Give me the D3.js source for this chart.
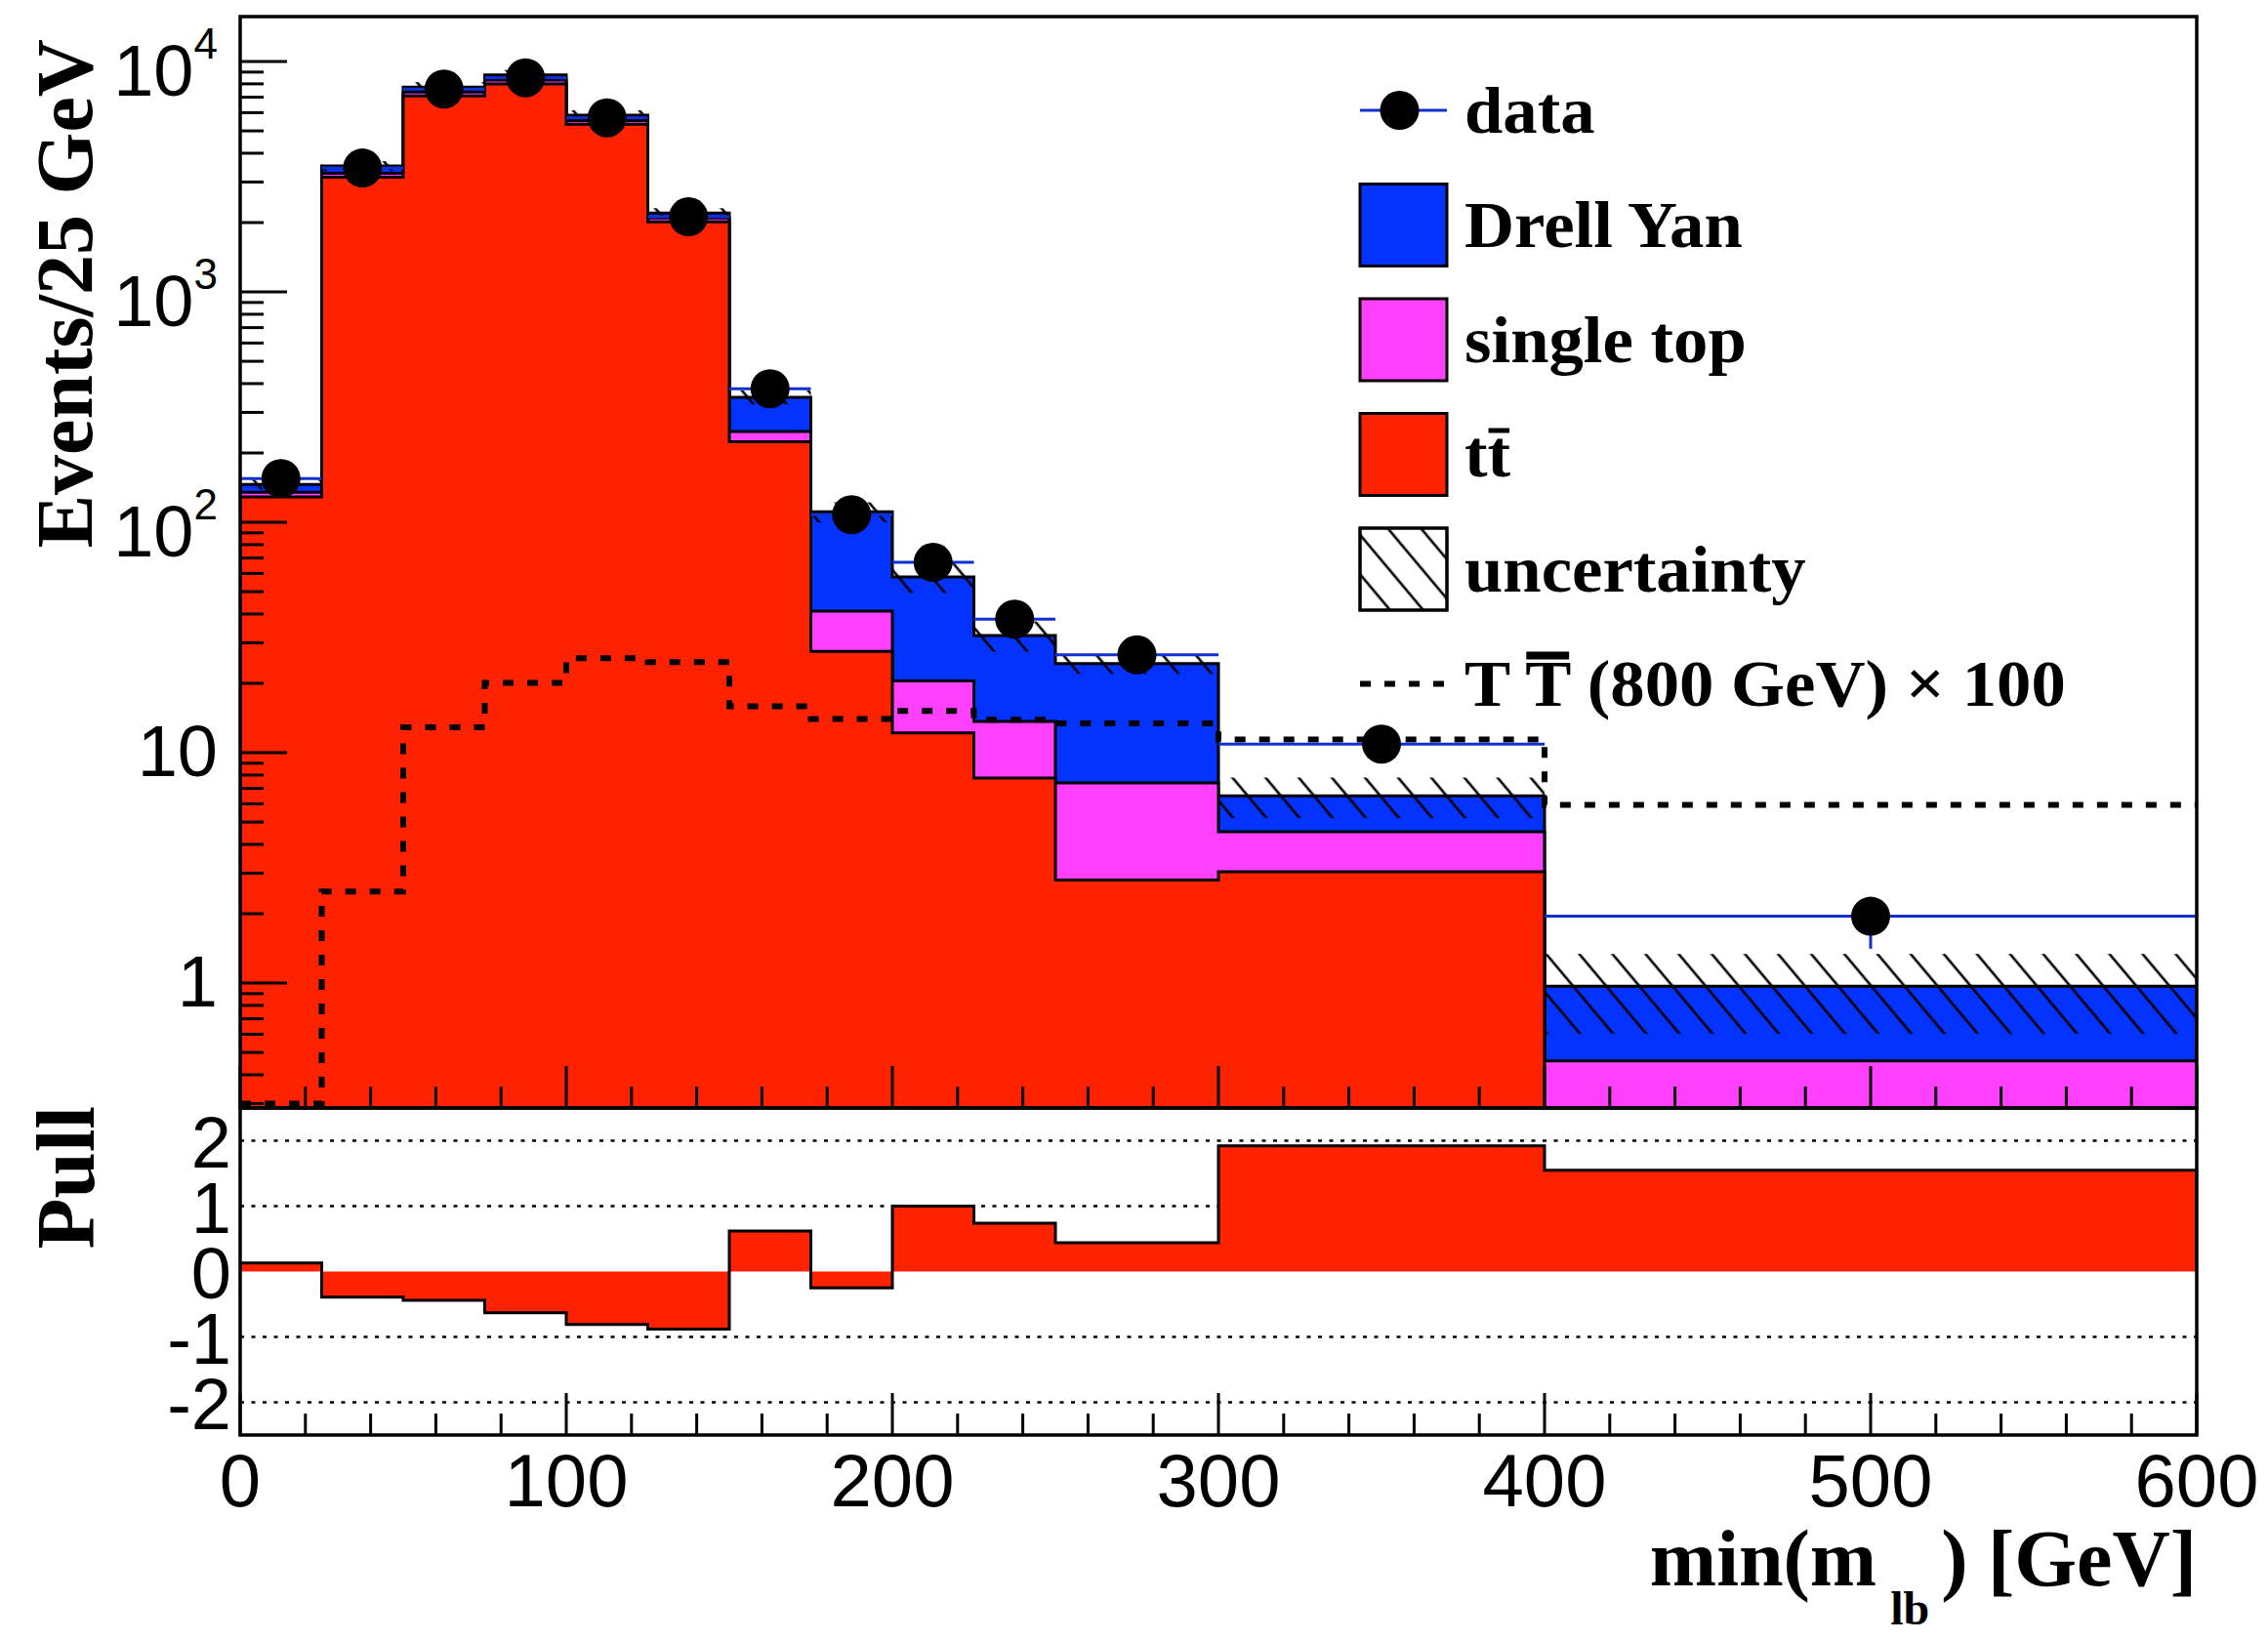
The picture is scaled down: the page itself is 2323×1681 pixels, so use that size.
<!DOCTYPE html>
<html><head><meta charset="utf-8">
<script src="https://cdn.jsdelivr.net/npm/d3@7"></script>
<style>html,body{margin:0;padding:0;background:#fff;}svg{display:block;}</style>
</head><body>
<svg id="c" width="2323" height="1681"></svg>
<script>
// ---------------- data ----------------
const binEdges   = [0, 25, 50, 75, 100, 125, 150, 175, 200, 225, 250, 300, 400, 600];
const ttbar      = [129, 3150, 7100, 8000, 5340, 2015, 224, 27.5, 12.2, 7.77, 2.8, 3.04, 0.2];
const singleTop  = [6, 120, 270, 320, 210, 80, 24, 13.7, 8.3, 5.9, 4.6, 1.5, 0.26];
const drellYan   = [11, 250, 380, 430, 300, 105, 101, 69.8, 37.5, 18.6, 17.0, 1.96, 0.51];
const uncRel     = [0.05, 0.05, 0.05, 0.05, 0.05, 0.05, 0.07, 0.1, 0.15, 0.15, 0.1, 0.2, 0.38];
const dataVals   = [155, 3450, 7600, 8500, 5700, 2120, 380, 108, 67, 38, 26.6, 10.9, 1.95];
const dataErrLow = [10, 50, 75, 80, 65, 40, 17, 8, 5, 3.5, 2.5, 0.9, 0.54];
const signalTT   = [0.3, 2.5, 12.9, 20.1, 25.7, 24.7, 15.9, 14.0, 15.2, 13.9, 13.4, 11.4, 5.94];
const pullVals   = [0.13, -0.39, -0.44, -0.63, -0.81, -0.88, 0.62, -0.25, 1.0, 0.74, 0.44, 1.92, 1.55];
const xTickVals  = [0, 100, 200, 300, 400, 500, 600];
const yTickVals  = [1, 10, 100, 1000, 10000];
const yTickBase  = ['1', '10', '10', '10', '10'];
const yTickExp   = ['', '', '2', '3', '4'];
const pullTickVals = [-2, -1, 0, 1, 2];
const pullGridVals = [-2, -1, 1, 2];
const legendLabels = ['data', 'Drell Yan', 'single top', 'tt', 'uncertainty', 'T T (800 GeV) \u00d7 100'];
const legendKinds  = ['data', 'dy', 'st', 'tt', 'unc', 'sig'];
const xTitle = ['min(m', 'lb', ') [GeV]'];
const yTitle = 'Events/25 GeV';
const pullTitle = 'Pull';

// ---------------- layout ----------------
const L = 246, R = 2250, T = 17, B = 1135, PB = 1470;
const colTT = '#ff2200', colST = '#ff40ff', colDY = '#0433ff', colErr = '#1030d0';
const sans = '"Liberation Sans", Arial, sans-serif';
const serif = '"Liberation Serif", "Times New Roman", serif';

const x = d3.scaleLinear().domain([0, 600]).range([L, R]);
const y = d3.scaleLog().domain([0.287, 15670]).range([B, T]).clamp(true);
const yp = d3.scaleLinear().domain([-2.5, 2.5]).range([PB, B]);

const svg = d3.select('#c');
const defs = svg.append('defs');
defs.append('clipPath').attr('id', 'clipTop').append('rect')
  .attr('x', L).attr('y', T).attr('width', R - L).attr('height', B - T);
defs.append('clipPath').attr('id', 'clipPull').append('rect')
  .attr('x', L).attr('y', B).attr('width', R - L).attr('height', PB - B);
const pat = defs.append('pattern').attr('id', 'hatch').attr('patternUnits', 'userSpaceOnUse')
  .attr('width', 26).attr('height', 26).attr('patternTransform', 'rotate(-40)');
pat.append('line').attr('x1', 13).attr('y1', -2).attr('x2', 13).attr('y2', 28)
  .attr('stroke', '#000').attr('stroke-width', 2.6);

function stepPts(vals, sy) {
  const p = [];
  vals.forEach((v, i) => { p.push([x(binEdges[i]), sy(v)]); p.push([x(binEdges[i + 1]), sy(v)]); });
  return p;
}
const line = d3.line();

// ---------------- upper pad ----------------
const upG = svg.append('g').attr('clip-path', 'url(#clipTop)');
const cumTT = ttbar.slice();
const cumST = ttbar.map((v, i) => v + singleTop[i]);
const cumAll = cumST.map((v, i) => v + drellYan[i]);
const area = d3.area().x(d => d[0]).y0(B).y1(d => d[1]);

[[cumAll, colDY], [cumST, colST], [cumTT, colTT]].forEach(([vals, col]) => {
  const pts = stepPts(vals, y);
  upG.append('path').attr('d', area(pts)).attr('fill', col).attr('stroke', 'none');
  upG.append('path').attr('d', line([[L, B], ...pts, [R, B]]))
    .attr('fill', 'none').attr('stroke', '#000').attr('stroke-width', 3);
});

// uncertainty band
upG.selectAll('rect.unc').data(cumAll).enter().append('rect').attr('class', 'unc')
  .attr('x', (d, i) => x(binEdges[i])).attr('width', (d, i) => x(binEdges[i + 1]) - x(binEdges[i]))
  .attr('y', (d, i) => y(d * (1 + uncRel[i])))
  .attr('height', (d, i) => y(d * (1 - uncRel[i])) - y(d * (1 + uncRel[i])))
  .attr('fill', 'url(#hatch)');

// signal T Tbar x100
upG.append('path').attr('d', line(stepPts(signalTT, y)))
  .attr('fill', 'none').attr('stroke', '#000').attr('stroke-width', 6)
  .attr('stroke-dasharray', '11,14');

// data
const dg = upG.append('g');
dataVals.forEach((v, i) => {
  const xc = x((binEdges[i] + binEdges[i + 1]) / 2);
  dg.append('line').attr('x1', x(binEdges[i])).attr('x2', x(binEdges[i + 1]))
    .attr('y1', y(v)).attr('y2', y(v)).attr('stroke', colErr).attr('stroke-width', 3);
  dg.append('line').attr('x1', xc).attr('x2', xc).attr('y1', y(v)).attr('y2', y(v - dataErrLow[i]))
    .attr('stroke', colErr).attr('stroke-width', 3);
});
dg.selectAll('circle').data(dataVals).enter().append('circle')
  .attr('cx', (d, i) => x((binEdges[i] + binEdges[i + 1]) / 2)).attr('cy', d => y(d))
  .attr('r', 20).attr('fill', '#000');

// ---------------- pull pad ----------------
const pg = svg.append('g').attr('clip-path', 'url(#clipPull)');
pg.selectAll('line.grid').data(pullGridVals).enter().append('line')
  .attr('x1', L).attr('x2', R).attr('y1', d => yp(d)).attr('y2', d => yp(d))
  .attr('stroke', '#000').attr('stroke-width', 2.5).attr('stroke-dasharray', '4,7.5');
const ppts = stepPts(pullVals, yp);
pg.append('path').attr('d', d3.area().x(d => d[0]).y0(yp(0)).y1(d => d[1])(ppts))
  .attr('fill', colTT);
pg.append('path').attr('d', line([[L, yp(0)], ...ppts, [R, yp(0)]]))
  .attr('fill', 'none').attr('stroke', '#000').attr('stroke-width', 3);

// ---------------- axes ----------------
const ax = svg.append('g').attr('stroke', '#000');
const minorX = d3.range(0, 601, 20);
[B, PB].forEach(by => {
  ax.selectAll(null).data(minorX).enter().append('line')
    .attr('x1', d => x(d)).attr('x2', d => x(d))
    .attr('y1', by).attr('y2', d => by - (d % 100 === 0 ? 43 : 22)).attr('stroke-width', 3);
});
// log y ticks
const minorY = [];
for (let e = -1; e <= 4; e++) for (let m = 1; m <= 9; m++) {
  const v = m * Math.pow(10, e);
  if (v >= 0.287 && v <= 15670) minorY.push(v);
}
ax.selectAll(null).data(minorY).enter().append('line')
  .attr('x1', L).attr('y1', d => y(d)).attr('y2', d => y(d))
  .attr('x2', d => L + (yTickVals.includes(d) ? 48 : 24)).attr('stroke-width', 3);

// frames
svg.append('rect').attr('x', L).attr('y', T).attr('width', R - L).attr('height', B - T)
  .attr('fill', 'none').attr('stroke', '#000').attr('stroke-width', 3.5);
svg.append('rect').attr('x', L).attr('y', B).attr('width', R - L).attr('height', PB - B)
  .attr('fill', 'none').attr('stroke', '#000').attr('stroke-width', 3.5);

// tick labels
const tl = svg.append('g').attr('font-family', sans).attr('fill', '#000');
yTickVals.forEach((v, i) => {
  const hasExp = yTickExp[i] !== '';
  const t = tl.append('text').attr('x', 223).attr('y', y(v) + (hasExp ? 35 : 24))
    .attr('text-anchor', 'end').attr('font-size', 74).text(yTickBase[i]);
  if (hasExp) t.append('tspan').attr('dy', -38).attr('font-size', 44).text(yTickExp[i]);
});
tl.selectAll('text.xt').data(xTickVals).enter().append('text').attr('class', 'xt')
  .attr('x', d => x(d)).attr('y', 1543).attr('text-anchor', 'middle').attr('font-size', 76)
  .text(d => d);
tl.selectAll('text.pt').data(pullTickVals).enter().append('text').attr('class', 'pt')
  .attr('x', 237).attr('y', d => yp(d) + 27).attr('text-anchor', 'end').attr('font-size', 74)
  .text(d => (d < 0 ? '-' + Math.abs(d) : d));

// titles
const tt = svg.append('g').attr('font-family', serif).attr('font-weight', 'bold').attr('fill', '#000');
const xt = tt.append('text').attr('x', R).attr('y', 1624).attr('text-anchor', 'end').attr('font-size', 82);
xt.append('tspan').text(xTitle[0]);
xt.append('tspan').attr('dx', 14).attr('dy', 40).attr('font-size', 48).text(xTitle[1]);
xt.append('tspan').attr('dx', 12).attr('dy', -40).text(xTitle[2]);
tt.append('text').attr('transform', 'translate(94,40) rotate(-90)').attr('text-anchor', 'end')
  .attr('font-size', 82).text(yTitle);
tt.append('text').attr('transform', 'translate(96,1133) rotate(-90)').attr('text-anchor', 'end')
  .attr('font-size', 85).text(pullTitle);

// ---------------- legend ----------------
const lg = svg.append('g');
const lx0 = 1393, lx1 = 1482, ltx = 1500, ly0 = 113, ldy = 117.5;
legendLabels.forEach((lab, i) => {
  const cy = ly0 + i * ldy;
  const kind = legendKinds[i];
  if (kind === 'data') {
    lg.append('line').attr('x1', lx0).attr('x2', lx1).attr('y1', cy).attr('y2', cy)
      .attr('stroke', colErr).attr('stroke-width', 3);
    lg.append('circle').attr('cx', (lx0 + lx1) / 2 - 4).attr('cy', cy).attr('r', 20).attr('fill', '#000');
  } else if (kind === 'sig') {
    lg.append('line').attr('x1', lx0).attr('x2', lx1).attr('y1', cy).attr('y2', cy)
      .attr('stroke', '#000').attr('stroke-width', 6).attr('stroke-dasharray', '11,14');
  } else {
    const fill = kind === 'dy' ? colDY : kind === 'st' ? colST : kind === 'tt' ? colTT : '#fff';
    lg.append('rect').attr('x', lx0).attr('y', cy - 42).attr('width', lx1 - lx0).attr('height', 84)
      .attr('fill', fill).attr('stroke', '#000').attr('stroke-width', 3);
    if (kind === 'unc') {
      lg.append('rect').attr('x', lx0).attr('y', cy - 42).attr('width', lx1 - lx0).attr('height', 84)
        .attr('fill', 'url(#hatch)').attr('stroke', '#000').attr('stroke-width', 3);
    }
  }
  const tg = lg.append('g').attr('transform', `translate(${ltx},0) scale(1.04,1) translate(${-ltx},0)`);
  const txt = tg.append('text').attr('x', ltx).attr('y', cy + 23).attr('font-family', serif)
    .attr('font-weight', 'bold').attr('font-size', 68).attr('fill', '#000').text(lab);
  // overline bars (t-bar, T-bar)
  let barIdx = -1, barH = 0, barTop = 0;
  if (kind === 'tt') { barIdx = 1; barTop = 50; barH = 5; }
  if (kind === 'sig') { barIdx = 2; barTop = 56; barH = 8; }
  if (barIdx >= 0) {
    const ext = txt.node().getExtentOfChar(barIdx);
    tg.append('rect').attr('x', ext.x + 1).attr('width', ext.width - 2)
      .attr('y', cy + 23 - barTop).attr('height', barH).attr('fill', '#000');
  }
});
</script>
</body></html>
